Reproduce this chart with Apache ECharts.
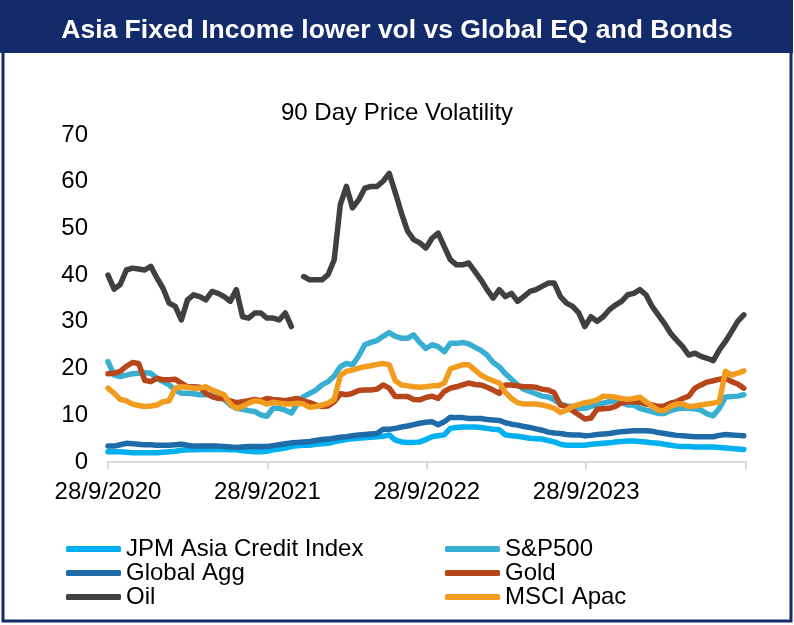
<!DOCTYPE html>
<html>
<head>
<meta charset="utf-8">
<title>Asia Fixed Income lower vol vs Global EQ and Bonds</title>
<script src="https://cdn.jsdelivr.net/npm/echarts@6/dist/echarts.min.js"></script>
<style>
    html, body { margin: 0; padding: 0; background: #fff; }
    #main { width: 794px; height: 625px; }
</style>
</head>
<body>
<div id="main"></div>
<script>
// 兩週一個取樣點, 從 28/9/2020 起
const dates = [];
for (let k = 0; k < 105; k++) {
    dates.push(new Date(2020, 8, 28 + 14 * k));
}

const tickLabels = ['28/9/2020', '28/9/2021', '28/9/2022', '28/9/2023', '28/9/2024'];

const jpmAsia = [
    2.2, 2.2, 2.2, 2.1, 2.0, 2.0, 2.0, 2.0, 2.0, 2.1, 2.2, 2.3, 2.5, 2.6, 2.6, 2.7, 2.7, 2.7, 2.7, 2.7, 2.6, 2.6, 2.4, 2.3, 2.2, 2.2, 2.3,
    2.6, 2.8, 3.0, 3.3, 3.5, 3.6, 3.6, 3.8, 3.9, 4.0, 4.3, 4.6, 4.8, 5.0, 5.1, 5.2, 5.3, 5.4, 5.5, 5.8, 4.7, 4.3, 4.2, 4.2, 4.3,
    4.8, 5.4, 5.6, 5.8, 7.2, 7.4, 7.5, 7.5, 7.5, 7.4, 7.2, 7.0, 6.9, 5.8, 5.6, 5.5, 5.3, 5.1, 5.0, 4.9, 4.6, 4.3, 3.8, 3.6, 3.6, 3.6, 3.6,
    3.8, 3.9, 4.0, 4.1, 4.3, 4.4, 4.5, 4.5, 4.4, 4.3, 4.1, 4.0, 3.8, 3.6, 3.4, 3.3, 3.3, 3.2, 3.2, 3.2, 3.2, 3.1, 3.0, 2.9, 2.8, 2.7
];
const sp500 = [
    21.5, 18.6, 18.3, 18.6, 18.9, 19.0, 19.1, 19.0, 17.9, 17.2, 16.5, 15.4, 14.7, 14.7, 14.6, 14.4, 14.4, 14.5, 14.0, 13.4, 12.2, 11.5, 11.3, 11.0, 10.8, 10.1, 9.8,
    11.5, 11.5, 11.1, 10.5, 12.5, 14.0, 14.7, 15.4, 16.5, 17.2, 18.4, 20.4, 21.1, 20.8, 22.7, 25.1, 25.6, 26.0, 26.9, 27.7, 26.9, 26.5, 26.5, 27.2, 25.6,
    24.3, 25.1, 24.7, 23.6, 25.4, 25.4, 25.6, 25.3, 24.6, 23.9, 22.9, 21.3, 20.4, 18.9, 17.7, 16.5, 15.6, 15.1, 14.6, 14.1, 13.9, 13.3, 12.4, 12.0, 11.9, 11.5, 11.5,
    11.9, 12.2, 12.6, 12.9, 13.1, 12.7, 12.2, 12.2, 11.5, 11.1, 10.8, 10.4, 10.4, 11.0, 11.4, 11.5, 11.5, 11.4, 11.1, 10.3, 9.9, 11.5, 13.9, 14.0, 14.1, 14.4
];
const globalAgg = [
    3.4, 3.4, 3.7, 4.0, 3.9, 3.8, 3.7, 3.7, 3.6, 3.6, 3.6, 3.7, 3.8, 3.6, 3.4, 3.4, 3.4, 3.4, 3.4, 3.3, 3.2, 3.1, 3.2, 3.3, 3.3, 3.3, 3.3,
    3.5, 3.7, 3.9, 4.1, 4.2, 4.3, 4.4, 4.6, 4.8, 4.9, 5.1, 5.3, 5.4, 5.6, 5.8, 5.9, 6.0, 6.1, 7.0, 7.0, 7.2, 7.5, 7.7, 8.0, 8.3,
    8.5, 8.6, 8.0, 8.6, 9.6, 9.5, 9.5, 9.3, 9.3, 9.3, 9.1, 9.0, 8.9, 8.4, 8.1, 7.9, 7.6, 7.4, 7.1, 6.8, 6.4, 6.2, 6.1, 5.9, 5.8, 5.8, 5.6,
    5.7, 5.9, 6.0, 6.1, 6.3, 6.5, 6.6, 6.7, 6.7, 6.7, 6.6, 6.3, 6.1, 5.9, 5.7, 5.6, 5.5, 5.4, 5.4, 5.4, 5.4, 5.7, 5.9, 5.8, 5.7, 5.6
];
const gold = [
    18.9, 19.0, 19.4, 20.5, 21.3, 21.1, 17.5, 17.2, 17.9, 17.6, 17.6, 17.7, 16.9, 16.1, 16.1, 16.0, 14.7, 14.0, 13.6, 13.6, 13.1, 12.7, 12.9, 13.1, 13.4, 13.1, 13.6,
    13.4, 13.3, 13.1, 13.4, 13.6, 13.1, 12.7, 12.2, 11.9, 12.0, 12.9, 14.6, 14.4, 14.7, 15.3, 15.4, 15.4, 15.6, 16.5, 15.8, 14.0, 14.0, 14.0, 13.4, 13.3,
    13.8, 14.1, 13.6, 15.1, 15.8, 16.1, 16.5, 16.9, 16.6, 16.5, 16.0, 15.4, 14.7, 16.5, 16.5, 16.3, 16.1, 16.1, 16.0, 15.6, 15.4, 14.8, 12.2, 11.9, 11.0, 10.1, 9.2,
    9.4, 11.3, 11.4, 11.5, 11.9, 12.7, 12.9, 12.9, 12.8, 12.4, 12.2, 11.9, 12.0, 12.6, 12.9, 13.6, 14.1, 15.8, 16.5, 17.1, 17.4, 17.7, 17.9, 17.2, 16.7, 15.8
];
const oil = [
    40.0, 37.0, 38.0, 41.1, 41.5, 41.3, 41.1, 41.9, 39.4, 37.2, 34.0, 33.3, 30.4, 34.7, 35.8, 35.4, 34.7, 36.5, 36.1, 35.4, 34.4, 36.9, 31.1, 30.8, 31.9, 31.9, 30.8,
    30.8, 30.4, 31.9, 29.0, null, 39.7, 39.0, 39.0, 39.0, 40.1, 43.3, 55.1, 59.0, 54.4, 56.1, 58.6, 59.0, 59.0, 60.1, 61.8, 57.6, 53.3, 49.4, 47.6, 46.9,
    45.8, 47.9, 49.0, 46.1, 43.3, 42.2, 42.2, 42.6, 40.8, 39.0, 36.9, 35.1, 36.9, 35.4, 36.1, 34.4, 35.4, 36.5, 36.9, 37.6, 38.3, 38.3, 35.4, 34.0, 33.3, 31.9, 29.0,
    31.1, 30.1, 31.1, 32.6, 33.6, 34.4, 35.8, 36.1, 36.9, 35.8, 33.3, 31.5, 29.7, 27.6, 26.1, 24.7, 22.9, 23.3, 22.6, 22.2, 21.7, 24.0, 25.8, 27.9, 30.1, 31.5
];
const msciApac = [
    15.8, 14.7, 13.4, 13.1, 12.4, 12.1, 11.9, 12.0, 12.2, 12.9, 13.1, 15.8, 16.1, 16.0, 15.8, 15.8, 16.1, 15.4, 14.9, 14.4, 12.4, 11.5, 11.9, 12.6, 13.1, 12.9, 12.4,
    12.8, 12.6, 12.4, 12.4, 12.6, 12.4, 11.7, 11.9, 12.2, 12.6, 13.4, 18.5, 19.4, 19.7, 20.1, 20.4, 20.6, 20.9, 21.1, 20.8, 17.4, 16.5, 16.3, 16.1, 16.0,
    16.1, 16.3, 16.3, 16.9, 19.9, 20.4, 20.8, 20.8, 19.7, 18.6, 17.9, 17.4, 16.9, 14.9, 13.6, 12.7, 12.4, 12.4, 12.4, 12.2, 11.9, 11.5, 10.6, 11.1, 11.9, 12.3, 12.7,
    12.9, 13.3, 14.1, 14.0, 13.9, 13.6, 13.4, 13.6, 13.9, 12.9, 12.0, 11.1, 11.0, 11.9, 12.4, 12.4, 11.9, 12.0, 12.2, 12.4, 12.6, 12.9, 19.4, 18.6, 19.0, 19.5
];

const navy = '#142B6B';
const fontFamily = "'Liberation Sans', Arial, sans-serif";
const DAY = 86400000;

let parseDMY = function(s) {
    let p = s.split('/');
    return new Date(+p[2], +p[1] - 1, +p[0]);
};
let startDate = parseDMY(tickLabels[0]);
// x 軸用距起始日的天數
let dayOf = function(d) {
    return Math.round((d.getTime() - startDate.getTime()) / DAY);
};
let tickDays = tickLabels.map(function(s) { return dayOf(parseDMY(s)); });

let makeSeries = function(name, values, color) {
    return {
        name: name,
        type: 'line',
        showSymbol: false,
        symbol: 'none',
        connectNulls: false,
        itemStyle: { color: color },
        lineStyle: { width: 5.5, color: color, cap: 'round', join: 'round' },
        data: values.map(function(v, i) {
            return [dayOf(dates[i]), v === null ? '-' : v];
        })
    };
};

let legendCommon = {
    orient: 'vertical',
    top: 537,
    padding: 0,
    itemWidth: 55,
    itemHeight: 6,
    itemGap: 0,
    icon: 'roundRect',
    textStyle: { fontSize: 24, lineHeight: 24, color: '#000', fontFamily: fontFamily }
};

let myChart = echarts.init(document.getElementById('main'), null, { renderer: 'canvas' });
myChart.setOption({
    animation: false,
    textStyle: { fontFamily: fontFamily },
    graphic: [
        {
            type: 'rect',
            z: -1,
            shape: { x: 3, y: 1.5, width: 788, height: 619.5 },
            style: { fill: 'none', stroke: navy, lineWidth: 3 }
        },
        {
            type: 'rect',
            z: -1,
            shape: { x: 0, y: 0, width: 793, height: 53 },
            style: { fill: navy }
        }
    ],
    title: [
        {
            text: 'Asia Fixed Income lower vol vs Global EQ and Bonds',
            left: 'center',
            top: 12,
            textStyle: { color: '#fff', fontSize: 26.5, fontWeight: 'bold', fontFamily: fontFamily }
        },
        {
            text: '90 Day Price Volatility',
            left: 'center',
            top: 96,
            textStyle: { color: '#000', fontSize: 24, fontWeight: 'normal', fontFamily: fontFamily }
        }
    ],
    legend: [
        Object.assign({ left: 66, data: ['JPM Asia Credit Index', 'Global Agg', 'Oil'] }, legendCommon),
        Object.assign({ left: 445, data: ['S&P500', 'Gold', 'MSCI Apac'] }, legendCommon)
    ],
    grid: { left: 108, right: 48, top: 135, bottom: 163 },
    xAxis: {
        type: 'value',
        min: tickDays[0],
        max: tickDays[tickDays.length - 1],
        axisLine: { show: true, lineStyle: { color: '#D9D9D9', width: 2 } },
        axisTick: {
            show: true,
            length: 7,
            customValues: tickDays,
            lineStyle: { color: '#D9D9D9', width: 2 }
        },
        axisLabel: {
            customValues: tickDays.slice(0, 4),
            margin: 18,
            fontSize: 24,
            color: '#000',
            fontFamily: fontFamily,
            formatter: function(v) {
                return tickLabels[tickDays.indexOf(Math.round(v))] || '';
            }
        },
        splitLine: { show: false }
    },
    yAxis: {
        type: 'value',
        min: 0,
        max: 70,
        interval: 10,
        axisLine: { show: false },
        axisTick: { show: false },
        splitLine: { show: false },
        axisLabel: { margin: 20, fontSize: 24, color: '#000', fontFamily: fontFamily }
    },
    series: [
        makeSeries('JPM Asia Credit Index', jpmAsia, '#00B0F0'),
        makeSeries('S&P500', sp500, '#38AED2'),
        makeSeries('Global Agg', globalAgg, '#1F6BA8'),
        makeSeries('Gold', gold, '#B8461B'),
        makeSeries('Oil', oil, '#404040'),
        makeSeries('MSCI Apac', msciApac, '#F29C1F')
    ]
});
</script>
</body>
</html>
